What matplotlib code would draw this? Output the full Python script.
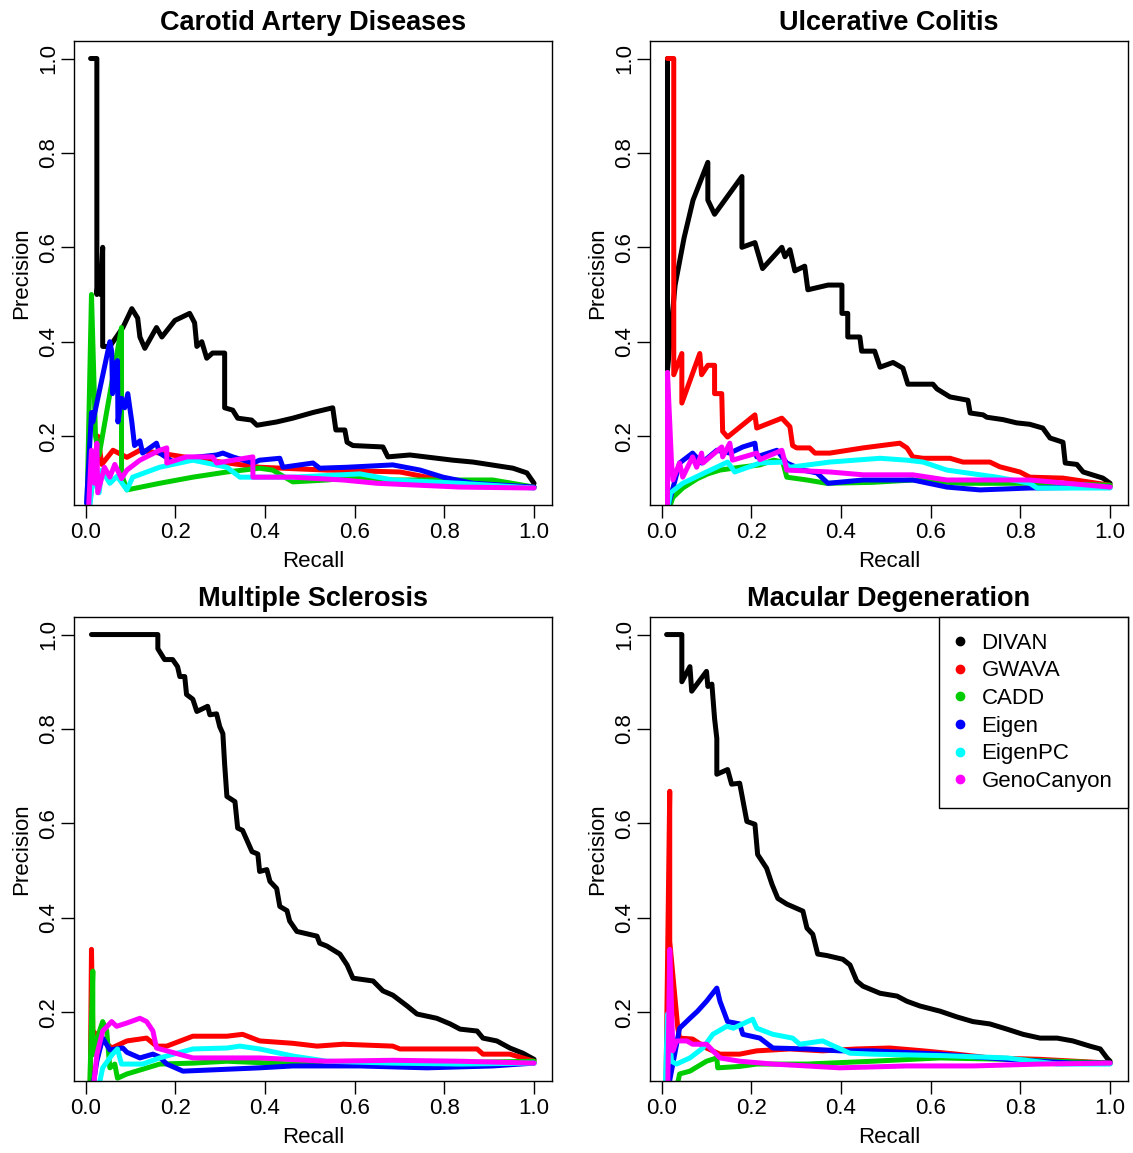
import matplotlib
matplotlib.use("Agg")
import matplotlib.pyplot as plt
from matplotlib.lines import Line2D

plt.rcParams['font.family'] = ['Liberation Sans', 'DejaVu Sans']

methods = ["DIVAN", "GWAVA", "CADD", "Eigen", "EigenPC", "GenoCanyon"]
colors = ["#000000", "#FF0000", "#00CD00", "#0000FF", "#00FFFF", "#FF00FF"]
titles = ["Carotid Artery Diseases", "Ulcerative Colitis",
          "Multiple Sclerosis", "Macular Degeneration"]
x_ticks = [0.0, 0.2, 0.4, 0.6, 0.8, 1.0]
y_ticks = [0.2, 0.4, 0.6, 0.8, 1.0]

# --- Carotid Artery Diseases (recall, precision) ---
cad_divan_x = [0.011, 0.025, 0.025, 0.030, 0.033, 0.038, 0.038, 0.054, 0.083, 0.103, 0.116, 0.121, 0.132, 0.158,
               0.170, 0.199, 0.232, 0.243, 0.248, 0.259, 0.270, 0.283, 0.310, 0.310, 0.328, 0.339, 0.370, 0.382,
               0.426, 0.462, 0.507, 0.551, 0.558, 0.578, 0.583, 0.596, 0.663, 0.674, 0.723, 0.819, 0.864, 0.953,
               0.984, 1.0]
cad_divan_y = [1.0, 1.0, 0.50, 0.55, 0.50, 0.60, 0.39, 0.39, 0.43, 0.47, 0.45, 0.41, 0.386, 0.43,
               0.41, 0.445, 0.46, 0.44, 0.39, 0.40, 0.365, 0.376, 0.376, 0.26, 0.255, 0.238, 0.234, 0.223,
               0.23, 0.238, 0.25, 0.26, 0.213, 0.213, 0.187, 0.18, 0.177, 0.156, 0.16, 0.149, 0.145, 0.132,
               0.122, 0.10]
cad_gwava_x = [0.002, 0.027, 0.036, 0.061, 0.092, 0.121, 0.165, 0.239, 0.388, 0.538, 0.701, 0.761, 0.857, 1.0]
cad_gwava_y = [0.0, 0.20, 0.14, 0.17, 0.155, 0.17, 0.164, 0.153, 0.134, 0.128, 0.124, 0.113, 0.103, 0.092]
cad_cadd_x = [0.002, 0.013, 0.022, 0.030, 0.080, 0.080, 0.092, 0.165, 0.239, 0.315, 0.388, 0.417, 0.462, 0.538,
              0.612, 0.685, 0.835, 0.908, 1.0]
cad_cadd_y = [0.0, 0.50, 0.20, 0.16, 0.43, 0.12, 0.086, 0.10, 0.113, 0.124, 0.132, 0.128, 0.103, 0.107,
              0.113, 0.107, 0.107, 0.107, 0.092]
cad_eigen_x = [0.002, 0.013, 0.016, 0.054, 0.058, 0.060, 0.065, 0.071, 0.072, 0.080, 0.087, 0.094, 0.103, 0.109,
               0.121, 0.127, 0.158, 0.165, 0.199, 0.225, 0.292, 0.306, 0.328, 0.373, 0.388, 0.433, 0.440, 0.507,
               0.522, 0.583, 0.685, 0.746, 0.797, 0.864, 1.0]
cad_eigen_y = [0.058, 0.25, 0.23, 0.40, 0.38, 0.29, 0.35, 0.36, 0.23, 0.28, 0.26, 0.29, 0.23, 0.18,
               0.19, 0.164, 0.185, 0.164, 0.143, 0.153, 0.16, 0.164, 0.156, 0.143, 0.149, 0.153, 0.134, 0.143,
               0.132, 0.134, 0.139, 0.128, 0.113, 0.10, 0.092]
cad_eigenpc_x = [0.004, 0.016, 0.030, 0.036, 0.054, 0.070, 0.092, 0.105, 0.165, 0.239, 0.270, 0.315, 0.344,
                 0.462, 0.612, 0.685, 0.835, 1.0]
cad_eigenpc_y = [0.0, 0.113, 0.08, 0.128, 0.10, 0.115, 0.086, 0.113, 0.134, 0.149, 0.143, 0.134, 0.113,
                 0.113, 0.12, 0.107, 0.10, 0.09]
cad_geno_x = [0.004, 0.013, 0.020, 0.025, 0.027, 0.042, 0.054, 0.065, 0.080, 0.092, 0.121, 0.165, 0.181, 0.181,
              0.225, 0.283, 0.292, 0.373, 0.373, 0.462, 0.574, 0.650, 0.835, 1.0]
cad_geno_y = [0.0, 0.17, 0.10, 0.185, 0.08, 0.134, 0.113, 0.14, 0.11, 0.128, 0.149, 0.17, 0.175, 0.143,
              0.156, 0.156, 0.143, 0.156, 0.113, 0.113, 0.107, 0.10, 0.092, 0.09]

# --- Ulcerative Colitis ---
uc_divan_x = [0.013, 0.013, 0.015, 0.020, 0.030, 0.050, 0.070, 0.103, 0.103, 0.118, 0.179, 0.179, 0.208, 0.225,
              0.268, 0.275, 0.286, 0.297, 0.319, 0.326, 0.371, 0.402, 0.402, 0.415, 0.415, 0.442, 0.446, 0.475,
              0.487, 0.516, 0.538, 0.549, 0.576, 0.605, 0.614, 0.643, 0.683, 0.688, 0.717, 0.725, 0.761, 0.792,
              0.821, 0.850, 0.866, 0.895, 0.900, 0.926, 0.940, 0.984, 1.0]
uc_divan_y = [1.0, 0.34, 0.36, 0.42, 0.52, 0.62, 0.70, 0.78, 0.70, 0.67, 0.75, 0.60, 0.61, 0.555,
              0.60, 0.58, 0.595, 0.55, 0.56, 0.51, 0.52, 0.52, 0.46, 0.46, 0.41, 0.41, 0.38, 0.38,
              0.346, 0.356, 0.344, 0.31, 0.31, 0.31, 0.30, 0.283, 0.276, 0.249, 0.245, 0.24, 0.235, 0.228,
              0.225, 0.217, 0.196, 0.187, 0.143, 0.14, 0.124, 0.111, 0.10]
uc_gwava_x = [0.013, 0.027, 0.027, 0.045, 0.045, 0.085, 0.089, 0.103, 0.118, 0.118, 0.134, 0.136, 0.147, 0.208,
              0.212, 0.268, 0.286, 0.292, 0.301, 0.330, 0.342, 0.375, 0.449, 0.531, 0.547, 0.560, 0.583, 0.643,
              0.672, 0.732, 0.754, 0.799, 0.821, 0.895, 1.0]
uc_gwava_y = [1.0, 1.0, 0.33, 0.375, 0.27, 0.375, 0.33, 0.35, 0.35, 0.29, 0.29, 0.21, 0.198, 0.245,
              0.217, 0.238, 0.22, 0.18, 0.175, 0.175, 0.164, 0.164, 0.175, 0.185, 0.175, 0.156, 0.153, 0.153,
              0.145, 0.145, 0.135, 0.124, 0.113, 0.111, 0.096]
uc_cadd_x = [0.0, 0.025, 0.047, 0.080, 0.103, 0.130, 0.175, 0.219, 0.250, 0.270, 0.279, 0.324, 0.368, 0.470,
             0.560, 0.672, 0.821, 1.0]
uc_cadd_y = [0.0, 0.07, 0.09, 0.11, 0.12, 0.128, 0.134, 0.139, 0.149, 0.145, 0.113, 0.107, 0.10, 0.102,
             0.107, 0.10, 0.10, 0.096]
uc_eigen_x = [0.0, 0.040, 0.069, 0.089, 0.123, 0.152, 0.181, 0.208, 0.212, 0.257, 0.279, 0.315, 0.346, 0.371,
              0.449, 0.560, 0.636, 0.710, 0.821, 1.0]
uc_eigen_y = [0.0, 0.143, 0.164, 0.143, 0.17, 0.164, 0.177, 0.185, 0.156, 0.17, 0.143, 0.128, 0.122, 0.10,
              0.107, 0.107, 0.092, 0.086, 0.09, 0.092]
uc_eigenpc_x = [0.004, 0.020, 0.047, 0.100, 0.147, 0.163, 0.219, 0.270, 0.286, 0.359, 0.375, 0.487, 0.547,
                0.583, 0.636, 0.748, 0.821, 0.837, 1.0]
uc_eigenpc_y = [0.0, 0.08, 0.10, 0.124, 0.145, 0.124, 0.143, 0.145, 0.134, 0.143, 0.145, 0.153, 0.149,
                0.145, 0.128, 0.113, 0.10, 0.09, 0.09]
uc_geno_x = [0.013, 0.013, 0.022, 0.025, 0.040, 0.047, 0.069, 0.078, 0.089, 0.092, 0.134, 0.136, 0.152, 0.158,
             0.212, 0.219, 0.268, 0.275, 0.279, 0.375, 0.449, 0.560, 0.636, 0.821, 1.0]
uc_geno_y = [0.0, 0.335, 0.143, 0.107, 0.143, 0.113, 0.156, 0.134, 0.164, 0.143, 0.177, 0.156, 0.185, 0.149,
             0.164, 0.15, 0.17, 0.145, 0.128, 0.124, 0.118, 0.118, 0.107, 0.107, 0.092]

# --- Multiple Sclerosis ---
ms_divan_x = [0.013, 0.161, 0.161, 0.176, 0.194, 0.205, 0.210, 0.221, 0.225, 0.239, 0.248, 0.272, 0.277, 0.292,
              0.299, 0.306, 0.310, 0.315, 0.333, 0.339, 0.350, 0.371, 0.384, 0.388, 0.404, 0.411, 0.426, 0.433,
              0.449, 0.455, 0.471, 0.516, 0.522, 0.538, 0.567, 0.583, 0.596, 0.641, 0.663, 0.685, 0.717, 0.739,
              0.783, 0.813, 0.835, 0.873, 0.886, 0.917, 0.946, 0.975, 1.0]
ms_divan_y = [1.0, 1.0, 0.97, 0.947, 0.947, 0.932, 0.911, 0.911, 0.873, 0.863, 0.837, 0.848, 0.83, 0.832,
              0.805, 0.79, 0.725, 0.657, 0.646, 0.59, 0.585, 0.54, 0.535, 0.498, 0.502, 0.477, 0.462, 0.424,
              0.415, 0.393, 0.371, 0.361, 0.346, 0.34, 0.323, 0.30, 0.272, 0.266, 0.245, 0.236, 0.213, 0.196,
              0.187, 0.175, 0.164, 0.16, 0.145, 0.139, 0.124, 0.113, 0.10]
ms_gwava_x = [0.010, 0.013, 0.016, 0.058, 0.092, 0.136, 0.158, 0.181, 0.239, 0.315, 0.350, 0.388, 0.462, 0.516,
              0.574, 0.685, 0.701, 0.797, 0.873, 0.886, 0.946, 1.0]
ms_gwava_y = [0.0, 0.333, 0.16, 0.124, 0.139, 0.145, 0.128, 0.128, 0.149, 0.149, 0.153, 0.139, 0.134, 0.128,
              0.132, 0.128, 0.122, 0.122, 0.122, 0.111, 0.111, 0.096]
ms_cadd_x = [0.008, 0.016, 0.016, 0.031, 0.038, 0.047, 0.054, 0.065, 0.071, 0.092, 0.127, 0.165, 0.239, 0.315,
             0.462, 0.612, 0.761, 1.0]
ms_cadd_y = [0.0, 0.287, 0.11, 0.16, 0.18, 0.16, 0.082, 0.09, 0.06, 0.069, 0.079, 0.09, 0.092, 0.096,
             0.09, 0.092, 0.092, 0.096]
ms_eigen_x = [0.009, 0.025, 0.038, 0.054, 0.083, 0.092, 0.121, 0.150, 0.165, 0.181, 0.217, 0.315, 0.388, 0.462,
              0.612, 0.761, 0.908, 1.0]
ms_eigen_y = [0.0, 0.096, 0.145, 0.12, 0.124, 0.115, 0.103, 0.111, 0.105, 0.09, 0.075, 0.079, 0.082, 0.086,
              0.086, 0.082, 0.086, 0.092]
ms_eigenpc_x = [0.020, 0.038, 0.060, 0.071, 0.080, 0.092, 0.127, 0.165, 0.239, 0.315, 0.344, 0.388, 0.462,
                0.538, 0.685, 0.835, 1.0]
ms_eigenpc_y = [0.0, 0.082, 0.111, 0.122, 0.09, 0.09, 0.09, 0.103, 0.122, 0.124, 0.128, 0.122, 0.107,
                0.096, 0.092, 0.09, 0.092]
ms_geno_x = [0.013, 0.025, 0.038, 0.058, 0.069, 0.092, 0.121, 0.136, 0.150, 0.158, 0.181, 0.239, 0.388, 0.538,
             0.685, 0.835, 1.0]
ms_geno_y = [0.0, 0.11, 0.16, 0.18, 0.17, 0.177, 0.187, 0.18, 0.16, 0.124, 0.118, 0.103, 0.103, 0.096,
             0.098, 0.096, 0.092]

# --- Macular Degeneration ---
md_divan_x = [0.011, 0.045, 0.045, 0.063, 0.067, 0.100, 0.103, 0.112, 0.118, 0.123, 0.123, 0.147, 0.156, 0.174,
              0.190, 0.208, 0.214, 0.234, 0.246, 0.259, 0.279, 0.315, 0.324, 0.337, 0.348, 0.368, 0.404, 0.420,
              0.435, 0.449, 0.487, 0.525, 0.547, 0.576, 0.621, 0.658, 0.694, 0.732, 0.770, 0.806, 0.844, 0.882,
              0.917, 0.955, 0.978, 0.993, 1.0]
md_divan_y = [1.0, 1.0, 0.90, 0.932, 0.88, 0.922, 0.89, 0.895, 0.822, 0.78, 0.704, 0.714, 0.683, 0.685,
              0.604, 0.598, 0.534, 0.505, 0.471, 0.441, 0.429, 0.414, 0.378, 0.365, 0.323, 0.32, 0.312, 0.30,
              0.266, 0.255, 0.24, 0.234, 0.223, 0.213, 0.202, 0.19, 0.18, 0.175, 0.164, 0.153, 0.145, 0.145,
              0.139, 0.128, 0.122, 0.103, 0.096]
md_gwava_x = [0.009, 0.018, 0.018, 0.036, 0.040, 0.069, 0.100, 0.130, 0.174, 0.212, 0.286, 0.359, 0.435, 0.509,
              0.583, 0.658, 0.732, 0.844, 1.0]
md_gwava_y = [0.0, 0.668, 0.35, 0.166, 0.145, 0.143, 0.124, 0.111, 0.111, 0.118, 0.122, 0.118, 0.122, 0.124,
              0.118, 0.111, 0.103, 0.10, 0.092]
md_cadd_x = [0.025, 0.040, 0.063, 0.100, 0.123, 0.125, 0.174, 0.212, 0.324, 0.471, 0.621, 0.770, 1.0]
md_cadd_y = [0.0, 0.069, 0.075, 0.096, 0.103, 0.082, 0.085, 0.09, 0.09, 0.096, 0.103, 0.10, 0.092]
md_eigen_x = [0.007, 0.040, 0.063, 0.080, 0.100, 0.123, 0.130, 0.147, 0.174, 0.181, 0.219, 0.248, 0.324, 0.397,
              0.472, 0.621, 0.770, 0.917, 1.0]
md_eigen_y = [0.0, 0.166, 0.187, 0.202, 0.223, 0.251, 0.223, 0.18, 0.175, 0.153, 0.145, 0.124, 0.122, 0.118,
              0.118, 0.111, 0.10, 0.092, 0.092]
md_eigenpc_x = [0.007, 0.013, 0.022, 0.033, 0.063, 0.092, 0.114, 0.145, 0.160, 0.203, 0.212, 0.248, 0.292,
                0.308, 0.359, 0.375, 0.420, 0.472, 0.621, 0.770, 0.882, 1.0]
md_eigenpc_y = [0.0, 0.196, 0.096, 0.09, 0.103, 0.124, 0.153, 0.17, 0.166, 0.185, 0.166, 0.153, 0.145,
                0.132, 0.139, 0.132, 0.113, 0.111, 0.108, 0.103, 0.09, 0.09]
md_geno_x = [0.013, 0.018, 0.025, 0.033, 0.056, 0.069, 0.100, 0.130, 0.174, 0.248, 0.324, 0.397, 0.546, 0.694,
             0.844, 1.0]
md_geno_y = [0.0, 0.333, 0.118, 0.139, 0.139, 0.132, 0.132, 0.103, 0.096, 0.09, 0.086, 0.082, 0.086, 0.086,
             0.09, 0.092]

panels = [
    [(cad_divan_x, cad_divan_y), (cad_gwava_x, cad_gwava_y), (cad_cadd_x, cad_cadd_y),
     (cad_eigen_x, cad_eigen_y), (cad_eigenpc_x, cad_eigenpc_y), (cad_geno_x, cad_geno_y)],
    [(uc_divan_x, uc_divan_y), (uc_gwava_x, uc_gwava_y), (uc_cadd_x, uc_cadd_y),
     (uc_eigen_x, uc_eigen_y), (uc_eigenpc_x, uc_eigenpc_y), (uc_geno_x, uc_geno_y)],
    [(ms_divan_x, ms_divan_y), (ms_gwava_x, ms_gwava_y), (ms_cadd_x, ms_cadd_y),
     (ms_eigen_x, ms_eigen_y), (ms_eigenpc_x, ms_eigenpc_y), (ms_geno_x, ms_geno_y)],
    [(md_divan_x, md_divan_y), (md_gwava_x, md_gwava_y), (md_cadd_x, md_cadd_y),
     (md_eigen_x, md_eigen_y), (md_eigenpc_x, md_eigenpc_y), (md_geno_x, md_geno_y)],
]

fig = plt.figure(figsize=(11.33, 11.53), dpi=100)

# axes boxes in figure fractions (R-style 2x2 layout)
boxes = [(0.0653, 0.562, 0.4219, 0.4024), (0.5737, 0.562, 0.4219, 0.4024),
         (0.0653, 0.0624, 0.4219, 0.4024), (0.5737, 0.0624, 0.4219, 0.4024)]

fs = 16
for i, box in enumerate(boxes):
    ax = fig.add_axes(box)
    for (xs, ys), c in zip(panels[i], colors):
        ax.plot(xs, ys, color=c, lw=3.6, solid_capstyle='round', solid_joinstyle='round')

    ax.set_xlim(-0.026, 1.04)
    ax.set_ylim(0.054, 1.037)
    ax.set_xticks(x_ticks)
    ax.set_xticklabels([f"{t:.1f}" for t in x_ticks])
    ax.set_yticks(y_ticks)
    ax.set_yticklabels([f"{t:.1f}" for t in y_ticks])
    ax.tick_params(direction='out', length=9.4, width=1.0, labelsize=fs, color='black')
    ax.tick_params(axis='x', pad=3)
    ax.tick_params(axis='y', pad=1, labelrotation=90)
    for lab in ax.get_yticklabels():
        lab.set_va('center')
    for sp in ax.spines.values():
        sp.set_linewidth(1.0)

    ax.set_title(titles[i], fontsize=19.5, fontweight='bold', pad=8)
    ax.set_xlabel("Recall", fontsize=fs)
    ax.set_ylabel("Precision", fontsize=fs)
    ax.xaxis.set_label_coords(0.5, -0.1)
    ax.yaxis.set_label_coords(-0.087, 0.5)

    if i == 3:
        handles = [Line2D([], [], marker='o', linestyle='none', color=c, markersize=6) for c in colors]
        leg = ax.legend(handles, methods, loc='upper right', fontsize=fs, frameon=True, fancybox=False,
                        borderaxespad=0, borderpad=0.7, handlelength=0.5, handletextpad=0.7,
                        labelspacing=0.3, framealpha=1)
        leg.get_frame().set_edgecolor('black')
        leg.get_frame().set_linewidth(1.0)

fig.savefig("out.png", dpi=100)
